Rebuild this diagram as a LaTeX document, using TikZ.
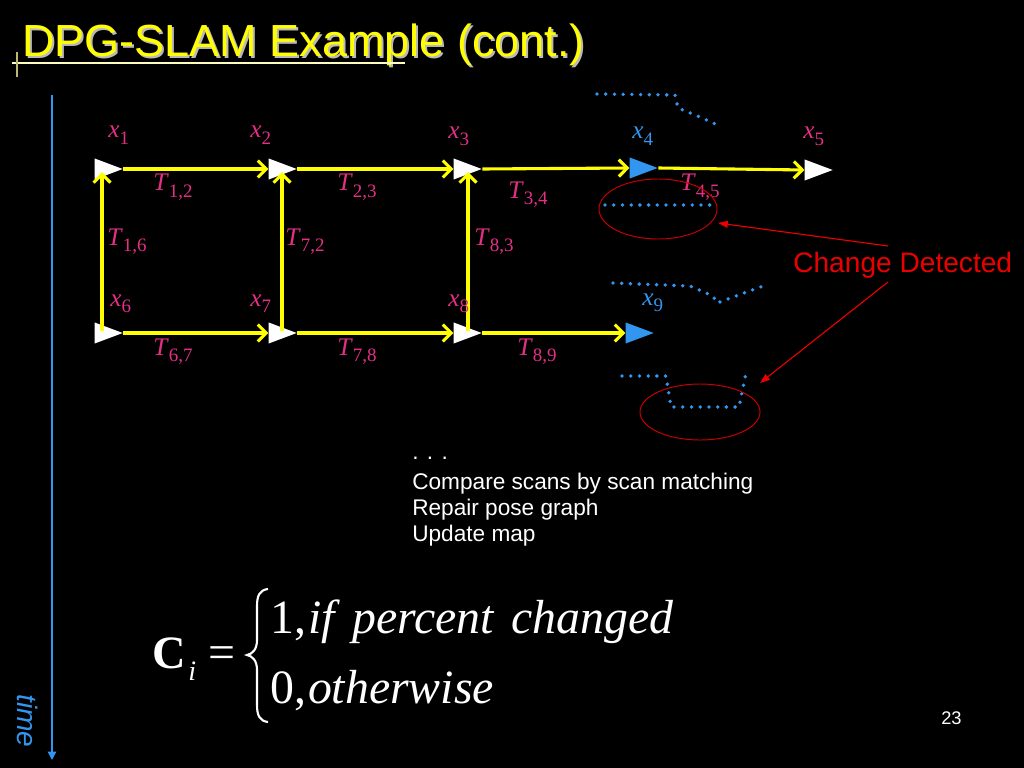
\documentclass[tikz,border=0pt]{standalone}
\usepackage{fontspec}
\setmainfont{Liberation Sans}
\newfontfamily\tms{Liberation Serif}
\usetikzlibrary{arrows.meta,shapes.geometric,calc}
\definecolor{posepink}{RGB}{228,48,132}
\definecolor{scanblue}{RGB}{50,150,240}
\definecolor{linkyellow}{RGB}{255,255,0}
\definecolor{alertred}{RGB}{235,0,0}
\newcommand{\sym}[2]{{\tms\fontsize{18}{20}\selectfont\textit{#1}\raisebox{-4.5pt}{\fontsize{13.5}{15}\selectfont #2}}}
\tikzset{
  pose/.style={isosceles triangle,isosceles triangle stretches,fill=white,inner sep=0pt,
    minimum height=0.7cm,minimum width=0.525cm},
  posenew/.style={pose,fill=scanblue},
  link/.style={linkyellow,line width=2.2pt,-{Straight Barb[length=6pt,width=12pt]}},
  lab/.style={text=posepink,inner sep=0pt,anchor=base west},
  labnew/.style={lab,text=scanblue},
  scanpts/.style={scanblue,line width=2.7pt,line cap=round,dash pattern=on 0pt off 6.2pt},
  ring/.style={ellipse,draw=alertred!85!black,line width=0.7pt,inner sep=0pt},
  alertarr/.style={alertred,line width=0.8pt,-{Triangle[length=7pt,width=5pt]}},
  note/.style={text=white,inner sep=0pt,anchor=base west,font=\fontsize{16.1}{18.5}\selectfont},
  ttl/.style={anchor=base west,inner sep=0pt,font=\fontsize{32}{36}\selectfont},
  frm/.style={text=white,inner sep=0pt,anchor=base west,font=\tms\fontsize{34}{36}\selectfont},
}
\begin{document}
\begin{tikzpicture}[x=0.025cm,y=-0.025cm]
  \fill[black] (0,0) rectangle (1024,768);
  \useasboundingbox (0,0) rectangle (1024,768);
  % title
  \node[ttl,text=gray!55] (ttlshadow) at (24,59) {DPG-SLAM Example (cont.)};
  \node[ttl,text=linkyellow] (ttl) at (22,57) {DPG-SLAM Example (cont.)};
  \draw[yellow!25!white,line width=1.3pt] (12,63) -- (405,63);
  \draw[gray!60!yellow,line width=0.9pt] (17,52) -- (17,77);
  % time axis
  \coordinate (ttop) at (52,95);
  \coordinate (tbot) at (52,760);
  \draw[scanblue,line width=1pt,-{Triangle[length=6pt,width=6pt]}] (ttop) -- (tbot);
  \node[text=scanblue,rotate=-90,inner sep=0pt,font=\itshape\fontsize{20}{22}\selectfont] (tlab) at (28,721) {time};
  % poses
  \node[pose] (x1) at (102,169) {};
  \node[pose] (x2) at (276,169) {};
  \node[pose] (x3) at (461,169) {};
  \node[posenew] (x4) at (637,168) {};
  \node[pose] (x5) at (812,170) {};
  \node[pose] (x6) at (102,333) {};
  \node[pose] (x7) at (276,333) {};
  \node[pose] (x8) at (461,333) {};
  \node[posenew] (x9) at (633,333) {};
  % links
  \draw[link] (x1.apex) -- (x2.west);
  \draw[link] (x2.apex) -- (x3.west);
  \draw[link] (x3.apex) -- (x4.west);
  \draw[link] (x4.apex) -- (x5.west);
  \draw[link] (x6.apex) -- (x7.west);
  \draw[link] (x7.apex) -- (x8.west);
  \draw[link] (x8.apex) -- (x9.west);
  \draw[link] ($(x6)+(0,-2)$) -- ($(x1)+(0,3)$);
  \draw[link] ($(x7)+(6,-2)$) -- ($(x2)+(6,3)$);
  \draw[link] ($(x8)+(7,-2)$) -- ($(x3)+(7,3)$);
  % labels
  \node[lab] (lx1) at (108,138) {\sym{x}{1}};
  \node[lab] (lx2) at (250,138) {\sym{x}{2}};
  \node[lab] (lx3) at (448,139) {\sym{x}{3}};
  \node[labnew] (lx4) at (632,139) {\sym{x}{4}};
  \node[lab] (lx5) at (803,139) {\sym{x}{5}};
  \node[lab] (lx6) at (110,306) {\sym{x}{6}};
  \node[lab] (lx7) at (250,306) {\sym{x}{7}};
  \node[lab] (lx8) at (448,306) {\sym{x}{8}};
  \node[labnew] (lx9) at (642,305) {\sym{x}{9}};
  \node[lab] (lt12) at (153,191) {\sym{T}{1,2}};
  \node[lab] (lt23) at (337,191) {\sym{T}{2,3}};
  \node[lab] (lt34) at (508,198) {\sym{T}{3,4}};
  \node[lab] (lt45) at (680,191) {\sym{T}{4,5}};
  \node[lab] (lt16) at (107,245) {\sym{T}{1,6}};
  \node[lab] (lt72) at (285,245) {\sym{T}{7,2}};
  \node[lab] (lt83) at (474,245) {\sym{T}{8,3}};
  \node[lab] (lt67) at (153,355) {\sym{T}{6,7}};
  \node[lab] (lt78) at (337,355) {\sym{T}{7,8}};
  \node[lab] (lt89) at (517,355) {\sym{T}{8,9}};
  % scans
  \draw[scanpts] (597,94) -- (675,95) -- (678,108) -- (700,117) -- (722,127);
  \draw[scanpts] (605,205) -- (717,205);
  \draw[scanpts] (613,283) -- (690,286) -- (713,296) -- (717,303) -- (763,286);
  \draw[scanpts] (622,376) -- (666,376) -- (671,407) -- (739,407) -- (746,373);
  % change detection
  \node[ring,minimum width=2.95cm,minimum height=1.5cm] (ring1) at (658,209) {};
  \node[ring,minimum width=3cm,minimum height=1.4cm] (ring2) at (700,412) {};
  \node[text=alertred,inner sep=0pt,anchor=base west,font=\fontsize{20}{22}\selectfont] (chg) at (793,272) {Change Detected};
  \coordinate (cd1) at (888,246);
  \coordinate (cd2) at (888,282);
  \coordinate (tip1) at (718,223);
  \coordinate (tip2) at (760,383);
  \draw[alertarr] (cd1) -- (tip1);
  \draw[alertarr] (cd2) -- (tip2);
  % steps
  \node[note] (n0) at (412,459) {. . .};
  \node[note] (n1) at (412,489) {Compare scans by scan matching};
  \node[note] (n2) at (412,515) {Repair pose graph};
  \node[note] (n3) at (412,541) {Update map};
  % formula
  \node[frm,font=\tms\bfseries\fontsize{33}{36}\selectfont] (fc) at (152,668) {C};
  \node[frm,font=\tms\itshape\fontsize{20}{22}\selectfont] (fi) at (188,680) {i};
  \node[frm] (feq) at (208,668) {=};
  \draw[white,line width=1.5pt] (268,589) .. controls (260,590) and (257,595) .. (257,606)
    -- (257,640) .. controls (257,650) and (252,654) .. (247,655)
    .. controls (252,656) and (257,660) .. (257,670)
    -- (257,705) .. controls (257,716) and (260,721) .. (268,722);
  \node[frm] (f1) at (270,633) {1,\hspace{0.04em}\textit{if\hspace{0.12em} percent\hspace{0.12em} changed}};
  \node[frm] (f0) at (270,703) {0,\hspace{0.04em}\textit{otherwise}};
  \node[note,font=\fontsize{13}{15}\selectfont] (pg) at (941,724) {23};
\end{tikzpicture}
\end{document}
